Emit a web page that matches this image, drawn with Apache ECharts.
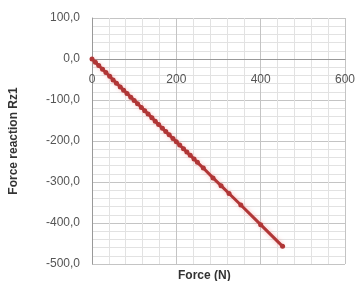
<!DOCTYPE html>
<html>
<head>
<meta charset="utf-8">
<script src="https://cdn.jsdelivr.net/npm/echarts@6/dist/echarts.min.js"></script>
<style>
  html, body { margin: 0; padding: 0; background: #fff; }
  #chart { width: 358px; height: 281px; }
</style>
</head>
<body>
<div id="chart"></div>
<script>
// values
const forceX = [0, 8, 16, 25, 33, 42, 50, 58, 67, 75, 83, 92, 100, 108, 117, 125, 133, 142, 150, 158,
  167, 175, 183, 192, 200, 208, 217, 225, 233, 242, 250, 264, 287, 306, 325, 353, 400, 452];
const reactionRz1 = [0, -8, -16, -25, -33, -42, -51, -59, -68, -76, -84, -93, -101, -109, -118, -126, -134, -143, -152, -160,
  -169, -177, -185, -194, -202, -210, -219, -227, -235, -244, -252, -266, -290, -309, -328, -356, -404, -457];
const xTicks = [0, 200, 400, 600];
const yTicks = [100, 0, -100, -200, -300, -400, -500];

const points = forceX.map((x, i) => [x, reactionRz1[i]]);

const chart = echarts.init(document.getElementById('chart'), null, { renderer: 'canvas' });

const labelFont = { fontFamily: 'Liberation Sans', fontSize: 12, color: '#555' };

// plot height 246px over 600 units; the zero line sits 100 units below the top
const zeroOffset = -246 * 500 / 600;

chart.setOption({
  animation: false,
  grid: { left: 91, right: 13, top: 18, bottom: 17 },
  xAxis: {
    type: 'value',
    min: xTicks[0],
    max: xTicks[xTicks.length - 1],
    interval: 200,
    offset: zeroOffset,
    axisLine: { onZero: false, lineStyle: { color: '#999', width: 1 } },
    axisTick: { show: false },
    axisLabel: { ...labelFont, margin: 15 },
    splitLine: { show: true, lineStyle: { color: '#c4c4c4', width: 1 } },
    minorTick: { show: false, splitNumber: 5 },
    minorSplitLine: { show: true, lineStyle: { color: '#e2e2e2', width: 1 } }
  },
  yAxis: {
    type: 'value',
    min: yTicks[yTicks.length - 1],
    max: yTicks[0],
    interval: 100,
    name: 'Force reaction Rz1',
    nameLocation: 'middle',
    nameGap: 72,
    nameTextStyle: { fontFamily: 'Liberation Sans', fontSize: 12, fontWeight: 'bold', color: '#333' },
    axisLine: { show: true, onZero: false, lineStyle: { color: '#999', width: 1 } },
    axisTick: { show: false },
    axisLabel: { ...labelFont, margin: 12, formatter: v => v.toFixed(1).replace('.', ',') },
    splitLine: { show: true, lineStyle: { color: '#c4c4c4', width: 1 } },
    minorTick: { show: false, splitNumber: 5 },
    minorSplitLine: { show: true, lineStyle: { color: '#e2e2e2', width: 1 } }
  },
  graphic: [{
    type: 'text',
    left: 178,
    top: 270,
    style: { text: 'Force (N)', font: 'bold 12px "Liberation Sans"', fill: '#333' }
  }],
  series: [{
    type: 'line',
    data: points,
    symbol: 'circle',
    symbolSize: 5,
    itemStyle: { color: '#b03636' },
    lineStyle: {
      color: '#b03636',
      width: 3,
      shadowColor: 'rgba(240,130,130,0.6)',
      shadowBlur: 4
    }
  }]
});
</script>
</body>
</html>
